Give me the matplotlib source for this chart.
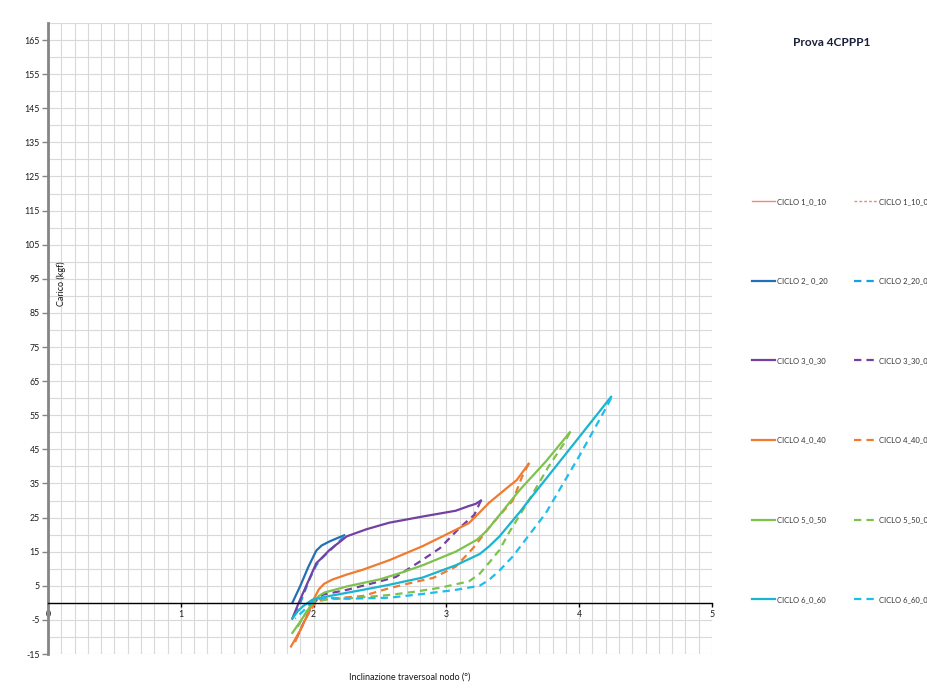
import numpy as np
import matplotlib.pyplot as plt

plt.rcParams['font.family'] = ['Lato', 'DejaVu Sans']
plt.rcParams['axes.unicode_minus'] = False

# ciclo 1 is not visible in the chart (only in the legend)
x1a, y1a = [], []
x1b, y1b = [], []

x2a = [1.84, 1.90, 1.96, 2.02, 2.06, 2.12, 2.18, 2.23]
y2a = [0.0, 5.0, 10.5, 15.3, 16.8, 18.0, 19.0, 19.8]
x2b = [2.23, 2.18, 2.12, 2.06, 2.02, 1.97, 1.92, 1.87]
y2b = [19.5, 17.5, 15.2, 13.0, 11.0, 7.0, 2.0, -3.0]

x3a = [1.84, 1.89, 2.02, 2.06, 2.12, 2.25, 2.40, 2.57, 2.82, 3.07, 3.17, 3.22, 3.26]
y3a = [-4.6, 0.2, 11.6, 13.1, 15.5, 19.5, 21.6, 23.5, 25.3, 27.0, 28.4, 29.0, 30.0]
x3b = [3.26, 3.21, 3.10, 2.95, 2.82, 2.62, 2.50, 2.25, 2.07, 2.00, 1.94, 1.90, 1.86]
y3b = [30.0, 25.8, 22.0, 16.0, 12.6, 7.6, 6.3, 3.8, 2.4, 0.0, -4.5, -8.0, -11.3]

x4a = [1.83, 1.90, 1.96, 2.00, 2.04, 2.08, 2.14, 2.25, 2.37, 2.57, 2.82, 3.07, 3.17,
       3.25, 3.32, 3.45, 3.53, 3.62]
y4a = [-12.8, -8.0, -3.0, 1.0, 4.0, 5.6, 6.8, 8.3, 9.7, 12.5, 16.6, 21.4, 23.4,
       26.5, 29.3, 33.5, 36.0, 40.8]
x4b = [3.62, 3.57, 3.50, 3.42, 3.35, 3.27, 3.20, 3.07, 2.90, 2.75, 2.57, 2.37, 2.12,
       2.02, 1.95, 1.90, 1.86]
y4b = [40.8, 37.0, 30.0, 26.5, 23.4, 19.5, 16.0, 10.6, 7.3, 6.0, 4.3, 2.0, 1.2,
       0.5, -4.0, -8.0, -11.5]

x5a = [1.84, 1.90, 1.95, 1.99, 2.04, 2.08, 2.25, 2.50, 2.65, 2.82, 3.07, 3.23, 3.30,
       3.37, 3.55, 3.75, 3.93]
y5a = [-8.8, -5.5, -2.5, 0.0, 2.0, 3.0, 4.8, 6.9, 8.7, 11.0, 15.0, 18.5, 21.0,
       24.3, 33.0, 41.5, 50.0]
x5b = [3.93, 3.89, 3.77, 3.62, 3.47, 3.40, 3.32, 3.25, 3.17, 2.95, 2.75, 2.57, 2.30,
       2.10, 2.00, 1.94, 1.88]
y5b = [50.0, 47.0, 40.0, 30.0, 20.5, 15.5, 11.7, 8.5, 6.3, 4.4, 3.2, 2.3, 1.4,
       1.0, 0.3, -3.0, -7.0]

x6a = [1.84, 1.88, 1.92, 1.99, 2.12, 2.37, 2.57, 2.82, 3.07, 3.25, 3.32, 3.40, 3.55,
       3.62, 4.00, 4.24]
y6a = [-4.6, -2.5, -1.0, 0.9, 2.0, 3.8, 5.3, 7.4, 11.0, 14.3, 16.5, 19.5, 26.5,
       30.0, 48.6, 60.4]
x6b = [4.24, 4.20, 4.00, 3.75, 3.50, 3.40, 3.32, 3.25, 3.07, 2.82, 2.57, 2.25, 2.07,
       1.98, 1.92, 1.86]
y6b = [60.0, 57.0, 43.0, 26.4, 13.6, 9.5, 6.7, 5.0, 3.8, 2.6, 1.5, 1.2, 1.5,
       0.0, -2.5, -4.6]

labels_a = ['CICLO 1_0_10', 'CICLO 2_ 0_20', 'CICLO 3_0_30', 'CICLO 4_0_40',
            'CICLO 5_0_50', 'CICLO 6_0_60']
labels_b = ['CICLO 1_10_0', 'CICLO 2_20_0', 'CICLO 3_30_0', 'CICLO 4_40_0',
            'CICLO 5_50_0', 'CICLO 6_60_0']
colors_a = ['#f4857d', '#2470b3', '#7440a2', '#f07a30', '#7dc24d', '#18b4d0']
colors_b = ['#f4857d', '#13a0e4', '#7440a2', '#f07a30', '#7dc24d', '#1cbdf0']

solid = [(x1a, y1a), (x2a, y2a), (x3a, y3a), (x4a, y4a), (x5a, y5a), (x6a, y6a)]
dashed = [(x1b, y1b), (x2b, y2b), (x3b, y3b), (x4b, y4b), (x5b, y5b), (x6b, y6b)]

fig = plt.figure(figsize=(9.27, 6.95), dpi=100)
ax = fig.add_axes([48 / 927, 41 / 695, 664 / 927, 631 / 695])

handles_a, handles_b = [], []
for i in range(6):
    lw = 1.0 if i == 0 else 1.6
    la, = ax.plot(*solid[i], color=colors_a[i], lw=lw, solid_joinstyle='round')
    if i == 0:
        lb, = ax.plot(*dashed[i], color=colors_b[i], lw=lw, dashes=(2, 1.5))
    else:
        lb, = ax.plot(*dashed[i], color=colors_b[i], lw=lw, dashes=(3.3, 2.3))
    handles_a.append(la)
    handles_b.append(lb)

ax.set_xlim(0, 5)
ax.set_ylim(-15, 170)
ax.set_xticks(np.arange(0, 6, 1))
ax.set_xticks(np.arange(0, 5.01, 0.1), minor=True)
ax.set_yticks(np.arange(-15, 166, 10))
ax.set_yticks(np.arange(-15, 171, 5), minor=True)
ax.grid(True, which='both', color='#d9d9d9', lw=0.8)
ax.set_axisbelow(True)

for s in ['top', 'right']:
    ax.spines[s].set_visible(False)
ax.spines['bottom'].set_position(('data', 0))
ax.spines['bottom'].set_color('black')
ax.spines['bottom'].set_linewidth(1.0)
ax.spines['left'].set_color('#858585')
ax.spines['left'].set_linewidth(2.0)

ax.tick_params(axis='y', which='major', length=4, width=1, color='#858585',
               labelsize=6.3, pad=2, labelcolor='#1a1a1a')
ax.tick_params(axis='x', which='major', length=3, width=1, color='black',
               labelsize=6.3, pad=2, labelcolor='#1a1a1a')
ax.tick_params(which='minor', length=0)

fig.text(61 / 927, 1 - 284 / 695, 'Carico (kgf)', rotation=90, fontsize=6.5,
         ha='center', va='center', color='#1a1a1a')
fig.text(410 / 927, 1 - 677 / 695, 'Inclinazione traversoal nodo (°)', fontsize=6.5,
         ha='center', va='center', color='#1a1a1a')
fig.text(832 / 927, 1 - 43 / 695, 'Prova 4CPPP1', fontsize=8.5, fontweight='bold',
         ha='center', va='center', color='#1a1f3a')

leg_kw = dict(loc='upper left', frameon=False, fontsize=5.5, handlelength=3.0,
              handletextpad=0.3, labelspacing=9.5, borderpad=0, borderaxespad=0)
leg1 = fig.legend(handles_a, labels_a, bbox_to_anchor=(752 / 927, 1 - 198 / 695), **leg_kw)
leg2 = fig.legend(handles_b, labels_b, bbox_to_anchor=(854 / 927, 1 - 198 / 695), **leg_kw)
for leg in (leg1, leg2):
    for t in leg.get_texts():
        t.set_color('#333333')

fig.savefig('out.png', dpi=100)
